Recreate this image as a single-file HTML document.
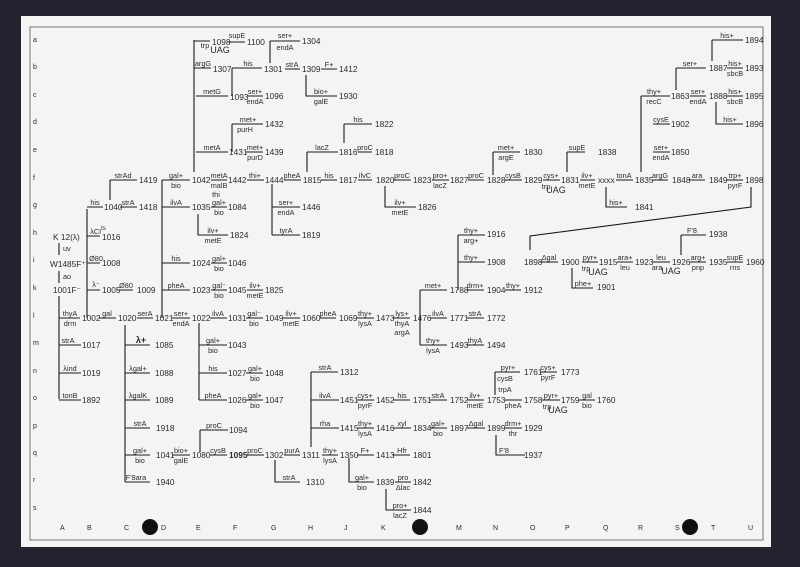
<!DOCTYPE html>
<html><head><meta charset="utf-8"><style>
html,body{margin:0;padding:0;background:#22232f;}
svg{display:block}
text{font-family:"Liberation Sans",sans-serif;fill:#2a2a2a}
.n{font-size:8.3px}
.l{font-size:7.3px;text-anchor:middle}
.s{font-size:7px;fill:#777}
</style></head><body>
<svg width="800" height="567" viewBox="0 0 800 567" xmlns="http://www.w3.org/2000/svg">
<rect x="0" y="0" width="800" height="567" fill="#22232f"/>
<rect x="21" y="16" width="750" height="531" fill="#f4f4f2"/>
<rect x="30" y="27" width="733" height="513" fill="none" stroke="#555" stroke-width="0.8"/>
<circle cx="150" cy="527" r="8" fill="#111"/><circle cx="420" cy="527" r="8" fill="#111"/><circle cx="690" cy="527" r="8" fill="#111"/>
<g class="s">
<text x="33" y="42">a</text><text x="33" y="69">b</text><text x="33" y="97">c</text><text x="33" y="124">d</text><text x="33" y="152">e</text><text x="33" y="180">f</text><text x="33" y="207">g</text><text x="33" y="235">h</text><text x="33" y="262">i</text><text x="33" y="290">k</text><text x="33" y="318">l</text><text x="33" y="345">m</text><text x="33" y="373">n</text><text x="33" y="400">o</text><text x="33" y="428">p</text><text x="33" y="455">q</text><text x="33" y="482">r</text><text x="33" y="510">s</text>
<text x="60" y="530">A</text><text x="87" y="530">B</text><text x="124" y="530">C</text><text x="161" y="530">D</text><text x="196" y="530">E</text><text x="233" y="530">F</text><text x="271" y="530">G</text><text x="308" y="530">H</text><text x="344" y="530">J</text><text x="381" y="530">K</text><text x="456" y="530">M</text><text x="493" y="530">N</text><text x="530" y="530">O</text><text x="565" y="530">P</text><text x="603" y="530">Q</text><text x="638" y="530">R</text><text x="675" y="530">S</text><text x="711" y="530">T</text><text x="748" y="530">U</text>
</g>
<path fill="none" stroke="#1a1a1a" stroke-width="1.1" d="
M194 40V172 M194 41H210 M228 42H245
M270 41V63 M270 41H300
M194 68H211 M232 68H262 M232 68V96 M285 69H300 M321 69H337 M306 75V96H337
M196 96H228 M247 96H263
M232 124V152 M232 124H263 M344 124V143 M344 124H372
M196 152H228 M246 152H263 M307 152V172 M307 152H338 M358 152H372
M162 180V318 M162 180H190 M211 180H227 M247 180H264 M272 184V235 M284 180H301 M321 180H337 M358 180H372 M385 186V207H416 M393 180H411 M432 180H449 M468 180H484 M493 152V175 M493 152H520 M505 180H522 M543 180H560 M567 152V172 M567 152H585 M580 180H595 M606 187V207H627 M616 180H633 M641 96V172 M641 96H670 M653 124H670 M653 152H670 M652 180H668 M689 180H705 M727 180H743
M676 68V90 M676 68H706 M712 40V61 M712 40H743 M727 68H743 M690 96H706 M727 96H743 M716 102V124H743
M751 187V207L530 236V250 M540 262H558 M572 268V288H593 M582 262H598 M617 262H633 M653 262H670 M681 235V255 M681 235H706 M690 262H706 M727 262H743
M59 243V255 M59 271V283 M59 296V399
M87 209V318 M87 207H103 M110 180V200 M110 180H137 M120 207H137 M87 236H100 M87 263H100 M87 290H100 M117 290H133
M59 318H80 M99 318H116 M125 325V482 M137 318H153 M172 318H190 M199 323V400 M210 318H227 M246 318H263 M283 318H300 M320 318H336 M357 318H374 M393 318H410 M420 290V345 M420 290H447 M467 290H484 M505 290H521 M458 235V290 M458 235H485 M458 262H485 M430 318H447 M467 318H484 M420 345H447 M467 345H484
M162 207H190 M198 214V235H228 M211 207H227 M162 263H190 M211 263H227 M162 290H190 M211 290H227 M247 290H263
M272 207H300 M272 235H300
M59 345H81 M59 373H81 M59 400H81
M125 345H150 M125 373H150 M125 400H150 M125 428H150 M125 455H150 M125 482H150
M172 455H190 M200 430V452 M200 430H228 M210 455H227 M247 455H264 M275 460V482H300 M284 455H300 M311 372V447 M311 372H338 M311 400H339 M357 400H374 M393 400H410 M430 400H447 M467 400H484 M495 372V395 M495 372H520 M540 372H557 M505 400H522 M542 400H560 M579 400H595 M311 428H339 M357 428H374 M393 428H411 M430 428H447 M467 428H485 M496 435V455H525 M505 428H522 M322 455H338 M349 458V482H374 M357 455H374 M393 455H410 M395 482H411 M386 489V510H411
M199 345H227 M199 373H227 M246 373H263 M199 400H227 M246 400H263"/>
<g class="n">
<text x="212" y="45">1098</text><text x="247" y="45">1100</text><text x="302" y="44">1304</text><text x="213" y="72">1307</text><text x="264" y="72">1301</text><text x="302" y="72">1309</text><text x="339" y="72">1412</text><text x="339" y="99">1930</text><text x="230" y="100">1093</text><text x="265" y="99">1096</text><text x="265" y="127">1432</text><text x="375" y="127">1822</text><text x="229" y="155">1431</text><text x="265" y="155">1439</text><text x="339" y="155">1816</text><text x="375" y="155">1818</text><text x="192" y="183">1042</text><text x="228" y="183">1442</text><text x="265" y="183">1444</text><text x="303" y="183">1815</text><text x="339" y="183">1817</text><text x="376" y="183">1820</text><text x="418" y="210">1826</text><text x="413" y="183">1823</text><text x="450" y="183">1827</text><text x="487" y="183">1828</text><text x="524" y="155">1830</text><text x="524" y="183">1829</text><text x="561" y="183">1831</text><text x="598" y="155">1838</text><text x="598" y="183">xxxx</text><text x="635" y="210">1841</text><text x="635" y="183">1835</text><text x="671" y="99">1863</text><text x="671" y="127">1902</text><text x="671" y="155">1850</text><text x="672" y="183">1848</text><text x="709" y="183">1849</text><text x="745" y="183">1898</text><text x="709" y="71">1887</text><text x="745" y="43">1894</text><text x="745" y="71">1893</text><text x="709" y="99">1888</text><text x="745" y="99">1895</text><text x="745" y="127">1896</text><text x="524" y="265">1898</text><text x="561" y="265">1900</text><text x="597" y="290">1901</text><text x="599" y="265">1915</text><text x="635" y="265">1923</text><text x="672" y="265">1926</text><text x="709" y="237">1938</text><text x="709" y="265">1935</text><text x="746" y="265">1960</text>
<text x="139" y="183">1419</text><text x="104" y="210">1040</text><text x="139" y="210">1418</text><text x="102" y="240">1016</text><text x="102" y="266">1008</text><text x="102" y="293">1005</text><text x="137" y="293">1009</text><text x="82" y="321">1002</text><text x="118" y="321">1020</text><text x="155" y="321">1021</text><text x="192" y="321">1022</text><text x="228" y="321">1031</text><text x="265" y="321">1049</text><text x="302" y="321">1060</text><text x="339" y="321">1069</text><text x="376" y="321">1473</text><text x="413" y="321">1476</text><text x="450" y="293">1788</text><text x="487" y="293">1904</text><text x="524" y="293">1912</text><text x="487" y="237">1916</text><text x="487" y="265">1908</text><text x="450" y="321">1771</text><text x="487" y="321">1772</text><text x="450" y="348">1493</text><text x="487" y="348">1494</text>
<text x="192" y="210">1035</text><text x="230" y="238">1824</text><text x="228" y="210">1084</text><text x="192" y="266">1024</text><text x="228" y="266">1046</text><text x="192" y="293">1023</text><text x="228" y="293">1045</text><text x="265" y="293">1825</text><text x="302" y="210">1446</text><text x="302" y="238">1819</text>
<text x="82" y="348">1017</text><text x="82" y="376">1019</text><text x="82" y="403">1892</text><text x="155" y="348">1085</text><text x="155" y="376">1088</text><text x="155" y="403">1089</text><text x="156" y="431">1918</text><text x="156" y="458">1041</text><text x="156" y="485">1940</text><text x="192" y="458">1080</text><text x="229" y="433">1094</text><text x="229" y="458" font-weight="bold">1095</text><text x="265" y="458">1302</text><text x="306" y="485">1310</text><text x="302" y="458">1311</text><text x="340" y="375">1312</text><text x="340" y="403">1451</text><text x="376" y="403">1452</text><text x="413" y="403">1751</text><text x="450" y="403">1752</text><text x="487" y="403">1753</text><text x="524" y="375">1761</text><text x="561" y="375">1773</text><text x="524" y="403">1758</text><text x="561" y="403">1759</text><text x="597" y="403">1760</text><text x="340" y="431">1415</text><text x="376" y="431">1416</text><text x="413" y="431">1834</text><text x="450" y="431">1897</text><text x="487" y="431">1899</text><text x="524" y="458">1937</text><text x="524" y="431">1929</text><text x="340" y="458">1350</text><text x="376" y="485">1839</text><text x="376" y="458">1413</text><text x="413" y="458">1801</text><text x="413" y="485">1842</text><text x="413" y="513">1844</text><text x="228" y="348">1043</text><text x="228" y="376">1027</text><text x="265" y="376">1048</text><text x="228" y="403">1026</text><text x="265" y="403">1047</text>
<text x="53" y="240">K 12(λ)</text><text x="50" y="267">W1485F⁺</text><text x="53" y="293">1001F⁻</text>
</g>
<g class="l">
<text x="63" y="251" style="text-anchor:start">uv</text><text x="63" y="279" style="text-anchor:start">ao</text>
<text x="205" y="48">trp</text><text x="220" y="53" font-size="9">UAG</text><text x="237" y="38">supE</text><text x="285" y="38">ser+</text><text x="285" y="50">endA</text>
<text x="203" y="66">argG</text><text x="248" y="66">his</text><text x="292" y="67">strA</text><text x="329" y="67">F+</text><text x="321" y="94">bio+</text><text x="321" y="104">galE</text>
<text x="212" y="94">metG</text><text x="255" y="94">ser+</text><text x="255" y="104">endA</text>
<text x="248" y="122">met+</text><text x="245" y="132">purH</text><text x="358" y="122">his</text>
<text x="212" y="150">metA</text><text x="255" y="150">met+</text><text x="255" y="160">purD</text><text x="322" y="150">lacZ</text><text x="365" y="150">proC</text>
<text x="176" y="178">gal+</text><text x="176" y="188">bio</text><text x="219" y="178">metA</text><text x="219" y="188">malB</text><text x="216" y="197">thi</text><text x="255" y="178">thi+</text><text x="292" y="178">pheA</text><text x="329" y="178">his</text><text x="365" y="178">ilvC</text><text x="400" y="205">ilv+</text><text x="400" y="215">metE</text><text x="402" y="178">proC</text><text x="440" y="178">pro+</text><text x="440" y="188">lacZ</text><text x="476" y="178">proC</text><text x="506" y="150">met+</text><text x="506" y="160">argE</text><text x="513" y="178">cysB</text><text x="551" y="178">cys+</text><text x="546" y="189">trp</text><text x="556" y="193" font-size="9">UAG</text><text x="577" y="150">supE</text><text x="587" y="178">ilv+</text><text x="587" y="188">metE</text><text x="616" y="205">his+</text><text x="624" y="178">tonA</text><text x="654" y="94">thy+</text><text x="654" y="104">recC</text><text x="661" y="122">cysE</text><text x="661" y="150">ser+</text><text x="661" y="160">endA</text><text x="660" y="178">argG</text><text x="697" y="178">ara</text><text x="735" y="178">trp+</text><text x="735" y="188">pyrF</text>
<text x="690" y="66">ser+</text><text x="727" y="38">his+</text><text x="735" y="66">his+</text><text x="735" y="76">sbcB</text><text x="698" y="94">ser+</text><text x="698" y="104">endA</text><text x="735" y="94">his+</text><text x="735" y="104">sbcB</text><text x="730" y="122">his+</text>
<text x="549" y="260">Δgal</text><text x="583" y="286">phe+</text><text x="590" y="260">pyr+</text><text x="586" y="271">trp</text><text x="598" y="275" font-size="9">UAG</text><text x="625" y="260">ara+</text><text x="625" y="270">leu</text><text x="661" y="260">leu</text><text x="657" y="270">ara</text><text x="671" y="274" font-size="9">UAG</text><text x="692" y="233">F'8</text><text x="698" y="260">arg+</text><text x="698" y="270">pnp</text><text x="735" y="260">supE</text><text x="735" y="270">rns</text>
<text x="123" y="178">strAd</text><text x="95" y="205">his</text><text x="128" y="205">strA</text><text x="98" y="234">λCI<tspan font-size="6" dy="-4">ts</tspan></text><text x="96" y="261">Ø80</text><text x="96" y="287">λ⁻</text><text x="126" y="288">Ø80</text>
<text x="70" y="316">thyA</text><text x="70" y="326">drm</text><text x="107" y="316">gal</text><text x="145" y="316">serA</text><text x="181" y="316">ser+</text><text x="181" y="326">endA</text><text x="218" y="316">ilvA</text><text x="254" y="316">gal⁻</text><text x="254" y="326">bio</text><text x="291" y="316">ilv+</text><text x="291" y="326">metE</text><text x="328" y="316">pheA</text><text x="365" y="316">thy+</text><text x="365" y="326">lysA</text><text x="402" y="316">lys+</text><text x="402" y="326">thyA</text><text x="402" y="335">argA</text><text x="433" y="288">met+</text><text x="475" y="288">drm+</text><text x="513" y="288">thy+</text><text x="471" y="233">thy+</text><text x="471" y="243">arg+</text><text x="471" y="260">thy+</text><text x="438" y="316">ilvA</text><text x="475" y="316">strA</text><text x="433" y="343">thy+</text><text x="433" y="353">lysA</text><text x="475" y="343">thyA</text>
<text x="176" y="205">ilvA</text><text x="213" y="233">ilv+</text><text x="213" y="243">metE</text><text x="219" y="205">gal+</text><text x="219" y="215">bio</text><text x="176" y="261">his</text><text x="219" y="261">gal+</text><text x="219" y="271">bio</text><text x="176" y="288">pheA</text><text x="219" y="288">gal⁻</text><text x="219" y="298">bio</text><text x="255" y="288">ilv+</text><text x="255" y="298">metE</text><text x="286" y="205">ser+</text><text x="286" y="215">endA</text><text x="286" y="233">tyrA</text>
<text x="68" y="343">strA</text><text x="70" y="371">λind</text><text x="70" y="398">tonB</text><text x="141" y="343" font-size="9" font-weight="bold">λ+</text><text x="138" y="371">λgal+</text><text x="138" y="398">λgalK</text><text x="140" y="426">strA</text><text x="140" y="453">gal+</text><text x="140" y="463">bio</text><text x="136" y="480">F'8ara</text>
<text x="181" y="453">bio+</text><text x="181" y="463">galE</text><text x="214" y="428">proC</text><text x="218" y="453">cysB</text><text x="255" y="453">proC</text><text x="289" y="480">strA</text><text x="292" y="453">purA</text><text x="325" y="370">strA</text><text x="325" y="398">ilvA</text><text x="365" y="398">cys+</text><text x="365" y="408">pyrF</text><text x="402" y="398">his</text><text x="438" y="398">strA</text><text x="475" y="398">ilv+</text><text x="475" y="408">metE</text><text x="508" y="370">pyr+</text><text x="505" y="381">cysB</text><text x="505" y="392">trpA</text><text x="548" y="370">cys+</text><text x="548" y="380">pyrF</text><text x="513" y="408">pheA</text><text x="551" y="398">pyr+</text><text x="547" y="409">trp</text><text x="558" y="413" font-size="9">UAG</text><text x="587" y="398">gal</text><text x="587" y="408">bio</text>
<text x="325" y="426">rha</text><text x="365" y="426">thy+</text><text x="365" y="436">lysA</text><text x="402" y="426">xyl</text><text x="438" y="426">gal+</text><text x="438" y="436">bio</text><text x="476" y="426">Δgal</text><text x="504" y="453">F'8</text><text x="513" y="426">drm+</text><text x="513" y="436">thr</text><text x="330" y="453">thy+</text><text x="330" y="463">lysA</text><text x="362" y="480">gal+</text><text x="362" y="490">bio</text><text x="365" y="453">F+</text><text x="402" y="453">Hfr</text><text x="403" y="480">pro</text><text x="403" y="490">Δlac</text><text x="400" y="508">pro+</text><text x="400" y="518">lacZ</text>
<text x="213" y="343">gal+</text><text x="213" y="353">bio</text><text x="213" y="371">his</text><text x="255" y="371">gal+</text><text x="255" y="381">bio</text><text x="213" y="398">pheA</text><text x="255" y="398">gal+</text><text x="255" y="408">bio</text>
</g>
</svg>
</body></html>
